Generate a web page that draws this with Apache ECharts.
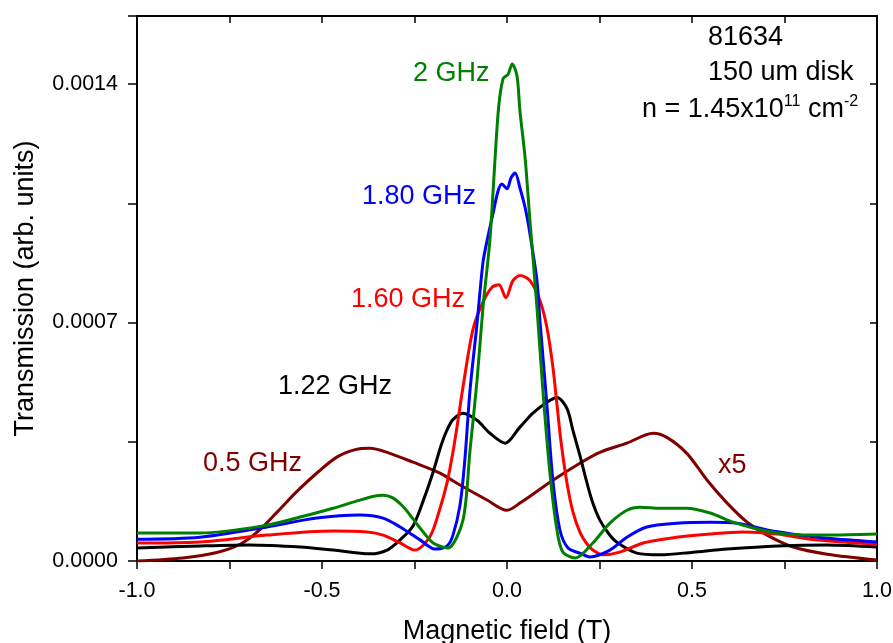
<!DOCTYPE html>
<html lang="en">
<head>
  <meta charset="UTF-8">
  <title>Transmission vs magnetic field</title>
  <style>
    html, body { margin: 0; padding: 0; background: #fff; }
  </style>
</head>
<body>
  <div id="main" style="width: 893px;height:643px;"></div>

  <script src="https://cdn.jsdelivr.net/npm/echarts@6/dist/echarts.min.js"></script>
  <script>
    // magnetic field (T) and transmission in units of 1e-4 (arb. units)
    const field05 = [-1.0, -0.876, -0.784, -0.720, -0.670, -0.620, -0.567, -0.510, -0.460, -0.410, -0.370, -0.324, -0.254, -0.181, -0.127, -0.054, 0.0, 0.035, 0.124, 0.197, 0.251, 0.324, 0.395, 0.432, 0.486, 0.541, 0.595, 0.649, 0.703, 0.773, 0.865, 1.0];
    const trans05 = [0.00, 0.09, 0.25, 0.50, 0.90, 1.45, 2.05, 2.62, 3.05, 3.27, 3.31, 3.19, 2.90, 2.58, 2.23, 1.79, 1.49, 1.70, 2.37, 2.87, 3.19, 3.46, 3.75, 3.63, 3.16, 2.37, 1.70, 1.14, 0.76, 0.41, 0.20, 0.03];

    const field122 = [-1.0, -0.830, -0.695, -0.559, -0.470, -0.370, -0.324, -0.289, -0.254, -0.227, -0.200, -0.178, -0.162, -0.146, -0.119, -0.081, -0.046, -0.005, 0.035, 0.070, 0.108, 0.135, 0.162, 0.178, 0.197, 0.216, 0.232, 0.251, 0.275, 0.297, 0.351, 0.414, 0.503, 0.595, 0.730, 0.865, 1.0];
    const trans122 = [0.38, 0.44, 0.47, 0.41, 0.32, 0.21, 0.32, 0.62, 1.03, 1.75, 2.60, 3.40, 3.85, 4.15, 4.34, 4.13, 3.75, 3.46, 3.93, 4.34, 4.66, 4.80, 4.48, 3.84, 3.10, 2.30, 1.70, 1.20, 0.80, 0.55, 0.23, 0.18, 0.26, 0.35, 0.44, 0.47, 0.41];

    const field160 = [-1.0, -0.830, -0.649, -0.470, -0.378, -0.335, -0.289, -0.249, -0.208, -0.181, -0.162, -0.146, -0.135, -0.119, -0.092, -0.065, -0.041, -0.022, -0.003, 0.016, 0.035, 0.062, 0.089, 0.108, 0.124, 0.135, 0.146, 0.162, 0.178, 0.197, 0.216, 0.232, 0.259, 0.305, 0.368, 0.441, 0.549, 0.638, 0.730, 0.819, 0.908, 1.0];
    const trans160 = [0.53, 0.56, 0.76, 0.88, 0.85, 0.76, 0.53, 0.32, 0.72, 1.55, 2.30, 3.20, 3.95, 5.10, 6.80, 7.60, 8.03, 8.11, 7.73, 8.23, 8.38, 8.23, 7.65, 6.85, 5.70, 4.60, 3.50, 2.30, 1.45, 0.85, 0.50, 0.32, 0.18, 0.26, 0.53, 0.67, 0.79, 0.85, 0.79, 0.64, 0.56, 0.50];

    const field180 = [-1.0, -0.830, -0.649, -0.514, -0.397, -0.335, -0.289, -0.235, -0.195, -0.162, -0.146, -0.127, -0.114, -0.100, -0.081, -0.065, -0.054, -0.038, -0.024, -0.014, 0.0, 0.011, 0.022, 0.035, 0.049, 0.062, 0.081, 0.089, 0.108, 0.124, 0.143, 0.165, 0.197, 0.224, 0.278, 0.324, 0.378, 0.459, 0.549, 0.622, 0.703, 0.792, 0.865, 1.0];
    const trans180 = [0.64, 0.70, 1.00, 1.26, 1.35, 1.26, 1.00, 0.62, 0.35, 0.44, 0.76, 1.64, 2.96, 5.01, 6.97, 8.76, 9.40, 10.19, 10.87, 11.07, 10.93, 11.25, 11.39, 10.95, 10.37, 9.61, 8.23, 7.06, 4.57, 2.37, 0.91, 0.38, 0.23, 0.12, 0.32, 0.70, 1.00, 1.11, 1.14, 1.11, 0.91, 0.76, 0.67, 0.56];

    const field200 = [-1.0, -0.830, -0.649, -0.559, -0.470, -0.400, -0.360, -0.335, -0.310, -0.281, -0.255, -0.235, -0.200, -0.170, -0.159, -0.119, -0.100, -0.081, -0.065, -0.046, -0.024, -0.011, 0.003, 0.014, 0.027, 0.035, 0.049, 0.062, 0.081, 0.097, 0.116, 0.135, 0.151, 0.184, 0.232, 0.278, 0.324, 0.359, 0.414, 0.486, 0.549, 0.611, 0.665, 0.730, 0.800, 0.865, 1.0];
    const trans200 = [0.82, 0.82, 1.05, 1.29, 1.55, 1.78, 1.90, 1.93, 1.86, 1.60, 1.25, 0.97, 0.53, 0.40, 0.38, 1.20, 3.25, 5.30, 7.44, 9.46, 13.15, 14.15, 14.29, 14.59, 14.24, 13.21, 11.83, 9.99, 7.44, 5.01, 2.58, 0.91, 0.26, 0.09, 0.53, 1.11, 1.49, 1.58, 1.55, 1.55, 1.41, 1.14, 0.97, 0.82, 0.76, 0.76, 0.79];

    const xTickLabels = ['-1.0', '-0.5', '0.0', '0.5', '1.0'];
    const yTickLabels = ['0.0000', '0.0007', '0.0014'];

    const font = 'Liberation Sans, Arial, sans-serif';
    const pairs = (xs, ys) => xs.map((x, i) => [x, ys[i] * 1e-4]);

    const makeSeries = (name, xs, ys, color) => ({
      name: name,
      type: 'line',
      data: pairs(xs, ys),
      showSymbol: false,
      smooth: 0.3,
      lineStyle: { color: color, width: 3 },
      itemStyle: { color: color },
      z: 3
    });

    const myChart = echarts.init(document.getElementById('main'));

    const xLabel = (v) => {
      const s = v.toFixed(1);
      return xTickLabels.indexOf(s) >= 0 && Math.abs(v * 2 - Math.round(v * 2)) < 1e-6 ? s : '';
    };
    const yLabel = (v) => {
      const k = v / 0.0007;
      return Math.abs(k - Math.round(k)) < 1e-6 ? yTickLabels[Math.round(k)] || '' : '';
    };

    const frameAxis = {
      axisLine: { show: true, onZero: false, lineStyle: { color: '#000', width: 2 } },
      splitLine: { show: false }
    };

    const labelText = (x, y, text, color) => ({
      type: 'text', x: x, y: y,
      style: { text: text, fill: color, fontSize: 27, fontFamily: font, textVerticalAlign: 'middle' }
    });

    const options = {
      animation: false,
      backgroundColor: '#fff',
      grid: { left: 137, right: 16, top: 16, bottom: 82, outerBoundsMode: 'none', containLabel: false },
      xAxis: [
        Object.assign({}, frameAxis, {
          type: 'value', min: -1, max: 1, interval: 0.25, position: 'bottom',
          axisTick: { show: true, inside: false, length: 8, lineStyle: { color: '#000', width: 1.5 } },
          axisLabel: { formatter: xLabel, color: '#000', fontSize: 21.5, fontFamily: font, margin: 19 },
          name: 'Magnetic field (T)', nameLocation: 'middle', nameGap: 57,
          nameTextStyle: { color: '#000', fontSize: 27, fontFamily: font }
        }),
        Object.assign({}, frameAxis, {
          type: 'value', min: -1, max: 1, interval: 0.25, position: 'top',
          axisTick: { show: true, inside: true, length: 7, lineStyle: { color: '#000', width: 1.5 } },
          axisLabel: { show: false }
        })
      ],
      yAxis: [
        Object.assign({}, frameAxis, {
          type: 'value', min: 0, max: 0.0016, interval: 0.00035, position: 'left',
          axisTick: { show: true, inside: false, length: 9, lineStyle: { color: '#000', width: 1.5 } },
          axisLabel: { formatter: yLabel, color: '#000', fontSize: 21.5, fontFamily: font, margin: 19 },
          name: 'Transmission (arb. units)', nameLocation: 'middle', nameGap: 98,
          nameTextStyle: { color: '#000', fontSize: 27, fontFamily: font }
        }),
        Object.assign({}, frameAxis, {
          type: 'value', min: 0, max: 0.0016, interval: 0.00035, position: 'right',
          axisTick: { show: true, inside: true, length: 7, lineStyle: { color: '#000', width: 1.5 } },
          axisLabel: { show: false }
        })
      ],
      series: [
        makeSeries('0.5 GHz', field05, trans05, '#800000'),
        makeSeries('1.22 GHz', field122, trans122, '#000000'),
        makeSeries('1.60 GHz', field160, trans160, '#ff0000'),
        makeSeries('1.80 GHz', field180, trans180, '#0000ff'),
        makeSeries('2 GHz', field200, trans200, '#008000')
      ],
      graphic: [
        labelText(413, 74, '2 GHz', '#008000'),
        labelText(362, 197, '1.80 GHz', '#0000ff'),
        labelText(351, 300, '1.60 GHz', '#ff0000'),
        labelText(278, 387, '1.22 GHz', '#000000'),
        labelText(203, 464, '0.5 GHz', '#800000'),
        labelText(718, 466, 'x5', '#800000'),
        labelText(708, 38, '81634', '#000'),
        labelText(708, 73, '150 um disk', '#000'),
        {
          type: 'text', x: 642, y: 110,
          style: {
            text: 'n = 1.45x10{sup|11} cm{sup|-2}',
            fill: '#000', fontSize: 27, fontFamily: font, textVerticalAlign: 'middle',
            rich: {
              sup: { fontSize: 16, fontFamily: font, fill: '#000', verticalAlign: 'top', lineHeight: 32 }
            }
          }
        }
      ]
    };

    myChart.setOption(options);
  </script>
</body>
</html>
